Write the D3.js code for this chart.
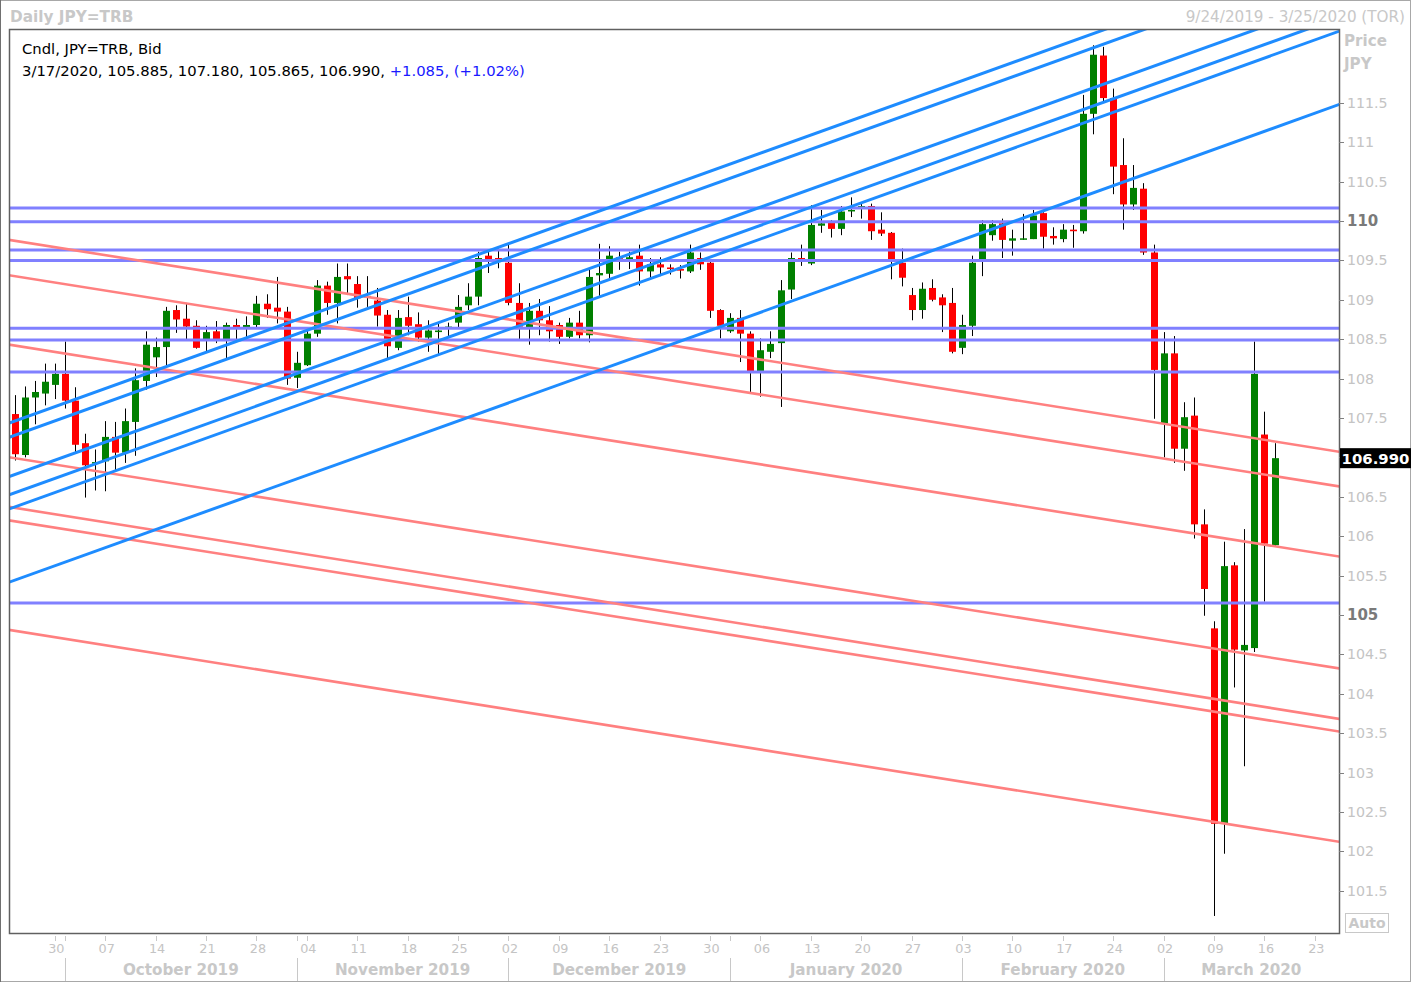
<!DOCTYPE html>
<html><head><meta charset="utf-8">
<script src="https://d3js.org/d3.v7.min.js"></script>
<style>body{margin:0;background:#fff}svg{display:block}</style>
</head><body>
<svg id="c" width="1412" height="983"></svg>
<script>
// ---------- DATA ----------
const startDate = "2019-09-24";
const endDate = "2020-03-25";

const openP = [
107.55,107.03,107.76,107.81,107.92,108.06,107.72,107.18,106.92,106.95,
107.26,107.06,107.45,107.97,108.27,108.40,108.87,108.76,108.67,108.50,
108.60,108.50,108.68,108.63,108.68,108.95,108.90,108.85,108.01,108.17,
108.57,109.18,108.96,109.30,109.20,109.04,108.99,108.81,108.39,108.78,
108.69,108.52,108.59,108.64,108.71,108.93,109.04,109.56,109.53,109.47,
108.96,108.65,108.86,108.74,108.68,108.53,108.71,108.55,109.31,109.33,
109.54,109.51,109.56,109.36,109.45,109.41,109.39,109.36,109.53,109.47,
108.87,108.60,108.77,108.57,108.09,108.34,108.45,109.13,109.53,109.46,
109.94,109.99,109.90,110.13,110.18,110.19,109.89,109.85,109.47,109.06,
108.87,109.15,109.03,108.96,108.39,108.67,109.51,109.82,109.97,109.75,
109.77,109.77,110.10,109.81,109.77,109.89,109.87,111.36,112.10,111.56,
110.71,110.21,110.41,109.60,107.43,108.32,107.11,107.53,106.15,104.83,
102.35,105.63,104.55,104.58,107.29,105.885];
const highP = [
107.79,107.90,107.97,108.19,108.19,108.47,107.89,107.30,107.10,107.46,
107.45,107.62,108.13,108.60,108.52,108.91,108.93,108.96,108.74,108.67,
108.73,108.71,108.76,108.79,109.05,109.07,109.29,108.91,108.34,108.65,
109.25,109.23,109.46,109.46,109.30,109.30,109.15,108.87,108.87,109.04,
108.84,108.74,108.71,108.71,109.06,109.21,109.61,109.61,109.65,109.70,
109.21,108.96,109.01,108.92,108.71,108.77,108.86,109.39,109.71,109.68,
109.61,109.61,109.70,109.53,109.54,109.45,109.44,109.70,109.60,109.51,
108.88,108.83,108.87,108.60,108.51,108.60,109.25,109.60,109.70,110.20,
110.14,110.01,110.19,110.30,110.22,110.22,110.11,109.86,109.65,109.15,
109.22,109.26,109.07,109.15,108.81,109.56,110.01,110.01,110.03,109.89,
110.09,110.14,110.11,109.92,109.96,109.95,111.60,112.23,112.21,111.68,
111.05,110.71,110.48,109.70,108.59,108.54,107.70,107.76,106.34,104.92,
105.93,105.67,106.09,108.47,107.58,107.18];
const lowP = [
106.96,107.00,107.42,107.66,107.74,107.62,107.05,106.49,106.58,106.57,
106.84,106.93,107.02,107.86,108.02,108.15,108.58,108.50,108.38,108.35,
108.45,108.25,108.49,108.49,108.64,108.77,108.70,107.92,107.88,108.16,
108.53,108.81,108.70,109.06,108.90,108.91,108.66,108.26,108.36,108.55,
108.47,108.34,108.31,108.53,108.64,108.87,108.93,109.34,109.40,108.93,
108.50,108.43,108.55,108.47,108.44,108.51,108.51,108.46,109.05,109.26,
109.38,109.39,109.18,109.27,109.30,109.32,109.27,109.34,109.38,108.77,
108.51,108.58,108.21,107.83,107.77,108.26,107.64,109.01,109.43,109.44,
109.85,109.79,109.82,110.05,110.03,109.76,109.81,109.26,109.17,108.74,
108.76,108.98,108.59,108.32,108.31,108.54,109.30,109.75,109.53,109.56,
109.76,109.77,109.65,109.70,109.73,109.66,109.84,111.10,111.51,110.34,
109.89,110.14,109.57,107.49,107.00,106.93,106.83,105.97,104.99,101.18,
101.97,104.08,103.08,104.53,105.17,105.865];
const closeP = [
107.04,107.76,107.83,107.96,108.06,107.72,107.16,106.90,106.94,107.26,
107.06,107.46,107.98,108.43,108.40,108.86,108.75,108.66,108.39,108.59,
108.50,108.68,108.65,108.68,108.95,108.88,108.85,108.00,108.20,108.57,
109.18,108.96,109.29,109.26,109.02,109.05,108.80,108.41,108.77,108.67,
108.52,108.61,108.61,108.66,108.91,109.04,109.53,109.51,109.50,108.96,
108.66,108.86,108.74,108.60,108.53,108.71,108.55,109.29,109.34,109.56,
109.52,109.54,109.36,109.45,109.41,109.39,109.37,109.60,109.45,108.86,
108.67,108.77,108.57,108.09,108.36,108.44,109.12,109.53,109.50,109.95,
109.97,109.90,110.12,110.14,110.19,109.87,109.84,109.51,109.28,108.87,
109.14,109.00,108.93,108.34,108.68,109.47,109.96,109.96,109.76,109.78,
109.78,110.07,109.80,109.78,109.89,109.87,111.36,112.11,111.56,110.69,
110.21,110.42,109.60,108.11,108.32,107.11,107.51,106.15,105.33,102.35,
105.62,104.56,104.62,108.06,105.905,106.99];

// horizontal support/resistance levels
const hLevels = [110.165, 109.99, 109.632, 109.50, 108.64, 108.49, 108.084, 105.152];
// rising trend lines: price at first date (9/24/2019) and at last date (3/25/2020)
const blueStart = [107.46, 107.28, 106.78, 106.55, 106.37, 105.44];
const blueEnd   = [113.48, 113.30, 112.79, 112.56, 112.39, 111.46];
// falling trend lines
const redStart = [109.75, 109.30, 108.42, 106.99, 106.36, 106.19, 104.80];
const redEnd   = [107.08, 106.64, 105.75, 104.33, 103.69, 103.53, 102.13];

const yTickValues = [101.5,102,102.5,103,103.5,104,104.5,105,105.5,106,106.5,107,107.5,108,108.5,109,109.5,110,110.5,111,111.5];
const yBoldTicks = [105, 110];

const titleText = "Daily JPY=TRB";
const rangeText = "9/24/2019 - 3/25/2020 (TOR)";
const legendTitle = "Cndl, JPY=TRB, Bid";
const legendValues = "3/17/2020, 105.885, 107.180, 105.865, 106.990, ";
const legendChange = "+1.085, (+1.02%)";
const lastPrice = 106.990;
const lastPriceLabel = "106.990";
const axisTitle = ["Price", "JPY"];

// ---------- CHART ----------
const FONT = "DejaVu Sans, Verdana, sans-serif";
const svg = d3.select("#c");
const P = {l: 9, r: 1339, t: 29, b: 933};

const parse = d3.timeParse("%Y-%m-%d");
const days = d3.timeDay.range(parse(startDate), d3.timeDay.offset(parse(endDate), 1))
  .filter(d => d.getDay() !== 0 && d.getDay() !== 6);
const N = days.length;

const x = d3.scaleLinear().domain([0, N - 1]).range([14.5, 14.5 + (N - 1) * 10.08]);
const y = d3.scaleLinear().domain([100.964, 112.4365]).range([P.b, P.t]);

const candles = openP.map((o, i) => ({i, o, h: highP[i], l: lowP[i], c: closeP[i]}));

// outer frame
svg.append("rect").attr("x", 0.5).attr("y", 0.5).attr("width", 1410).attr("height", 981)
  .attr("fill", "#fff").attr("stroke", "#a8a8a8");
svg.append("line").attr("x1", 0.5).attr("x2", 0.5).attr("y1", 0).attr("y2", 982).attr("stroke", "#707070");

svg.append("text").attr("x", 10).attr("y", 22).text(titleText)
  .attr("font-family", FONT).attr("font-weight", "bold").attr("font-size", 15.3).attr("fill", "#c8c8c8");
svg.append("text").attr("x", 1405).attr("y", 22).attr("text-anchor", "end").text(rangeText)
  .attr("font-family", FONT).attr("font-size", 15.2).attr("fill", "#c8c8c8");

// clip
svg.append("defs").append("clipPath").attr("id", "plotclip").append("rect")
  .attr("x", P.l).attr("y", P.t).attr("width", P.r - P.l).attr("height", P.b - P.t);

const g = svg.append("g").attr("clip-path", "url(#plotclip)");

// wicks
g.append("g").selectAll("line").data(candles).join("line")
  .attr("x1", d => Math.round(x(d.i)) + 0.5).attr("x2", d => Math.round(x(d.i)) + 0.5)
  .attr("y1", d => y(d.h)).attr("y2", d => y(d.l))
  .attr("stroke", "#000").attr("stroke-width", 1);
// bodies
g.append("g").selectAll("rect").data(candles).join("rect")
  .attr("x", d => Math.round(x(d.i)) - 3).attr("width", 7)
  .attr("y", d => y(Math.max(d.o, d.c)))
  .attr("height", d => Math.max(1.5, Math.abs(y(d.o) - y(d.c))))
  .attr("fill", d => d.c >= d.o ? "#008000" : "#ff0000");

// horizontal levels
g.append("g").selectAll("line").data(hLevels).join("line")
  .attr("x1", P.l).attr("x2", P.r).attr("y1", d => y(d)).attr("y2", d => y(d))
  .attr("stroke", "#8080ff").attr("stroke-width", 3);

// trendlines extended across the plot
function trend(s, e) {
  const slope = (e - s) / (N - 1);
  const i0 = x.invert(P.l - 2), i1 = x.invert(P.r + 2);
  return [[x(i0), y(s + slope * i0)], [x(i1), y(s + slope * i1)]];
}
g.append("g").selectAll("line").data(redStart.map((s, k) => trend(s, redEnd[k]))).join("line")
  .attr("x1", d => d[0][0]).attr("y1", d => d[0][1]).attr("x2", d => d[1][0]).attr("y2", d => d[1][1])
  .attr("stroke", "#ff8080").attr("stroke-width", 2.6);
g.append("g").selectAll("line").data(blueStart.map((s, k) => trend(s, blueEnd[k]))).join("line")
  .attr("x1", d => d[0][0]).attr("y1", d => d[0][1]).attr("x2", d => d[1][0]).attr("y2", d => d[1][1])
  .attr("stroke", "#1e8cff").attr("stroke-width", 3);

// plot frame
svg.append("rect").attr("x", P.l + 0.5).attr("y", P.t + 0.5).attr("width", P.r - P.l).attr("height", P.b - P.t)
  .attr("fill", "none").attr("stroke", "#606060").attr("stroke-width", 1.5);

// legend
const lg = svg.append("text").attr("font-family", FONT).attr("font-size", 14.8);
lg.append("tspan").attr("x", 22).attr("y", 54).attr("fill", "#000").text(legendTitle);
const l2 = svg.append("text").attr("font-family", FONT).attr("font-size", 14.8).attr("x", 22).attr("y", 76);
l2.append("tspan").attr("fill", "#000").text(legendValues);
l2.append("tspan").attr("fill", "#1a1aff").text(legendChange);

// y axis (right)
const ly = y(lastPrice);
const ya = svg.append("g");
ya.selectAll("line").data(yTickValues).join("line")
  .attr("x1", P.r).attr("x2", P.r + 5).attr("y1", d => Math.round(y(d)) + 0.5).attr("y2", d => Math.round(y(d)) + 0.5)
  .attr("stroke", "#808080");
// labels hidden under the last-price tag are not drawn (as in the reference)
ya.selectAll("text").data(yTickValues.filter(d => Math.abs(y(d) - ly) > 14)).join("text")
  .attr("x", 1347).attr("y", d => y(d)).attr("dy", "0.36em")
  .attr("font-family", FONT)
  .attr("font-size", d => yBoldTicks.includes(d) ? 15 : 14.2)
  .attr("font-weight", d => yBoldTicks.includes(d) ? "bold" : "normal")
  .attr("fill", d => yBoldTicks.includes(d) ? "#7a7a7a" : "#c4c4c4")
  .text(d => d3.format("~g")(d));
axisTitle.forEach((t, k) => {
  svg.append("text").attr("x", 1344).attr("y", 46 + k * 23).text(t)
    .attr("font-family", FONT).attr("font-weight", "bold").attr("font-size", 15.1).attr("fill", "#c8c8c8");
});
// last price tag
svg.append("rect").attr("x", P.r + 1).attr("y", ly - 10).attr("width", 71).attr("height", 20).attr("fill", "#000");
svg.append("text").attr("x", 1340 + 35.5).attr("y", ly).attr("dy", "0.36em").attr("text-anchor", "middle")
  .attr("font-family", FONT).attr("font-weight", "bold").attr("font-size", 14.9).attr("fill", "#fff").text(lastPriceLabel);
// Auto box
svg.append("rect").attr("x", 1345.5).attr("y", 913.5).attr("width", 43).attr("height", 19)
  .attr("fill", "#fff").attr("stroke", "#c8c8c8");
svg.append("text").attr("x", 1367).attr("y", 923).attr("dy", "0.36em").attr("text-anchor", "middle")
  .attr("font-family", FONT).attr("font-weight", "bold").attr("font-size", 14).attr("fill", "#c8c8c8").text("Auto");

// x axis
const mondays = days.map((d, i) => ({d, i})).filter(o => o.d.getDay() === 1);
const monthStarts = days.map((d, i) => ({d, i})).filter(o => o.i > 0 && o.d.getMonth() !== days[o.i - 1].getMonth());
const xa = svg.append("g");
xa.selectAll("line.mt").data(mondays.concat(monthStarts)).join("line")
  .attr("x1", o => Math.round(x(o.i)) + 0.5).attr("x2", o => Math.round(x(o.i)) + 0.5)
  .attr("y1", 936).attr("y2", 941).attr("stroke", "#c8c8c8");
xa.selectAll("text.day").data(mondays).join("text")
  .attr("x", o => x(o.i) + 1.5).attr("y", 953).attr("text-anchor", "middle")
  .attr("font-family", FONT).attr("font-size", 12.8).attr("fill", "#c4c4c4")
  .text(o => d3.timeFormat("%d")(o.d));
xa.selectAll("line.sep").data(monthStarts).join("line")
  .attr("x1", o => Math.round(x(o.i)) + 0.5).attr("x2", o => Math.round(x(o.i)) + 0.5)
  .attr("y1", 958).attr("y2", 981).attr("stroke", "#c8c8c8");
xa.selectAll("text.month").data(monthStarts).join("text")
  .attr("x", (o, k) => (x(o.i) + (k + 1 < monthStarts.length ? x(monthStarts[k + 1].i) : P.r)) / 2)
  .attr("y", 975).attr("text-anchor", "middle")
  .attr("font-family", FONT).attr("font-weight", "bold").attr("font-size", 15.2).attr("fill", "#c8c8c8")
  .text(o => d3.timeFormat("%B %Y")(o.d));
</script>
</body></html>
